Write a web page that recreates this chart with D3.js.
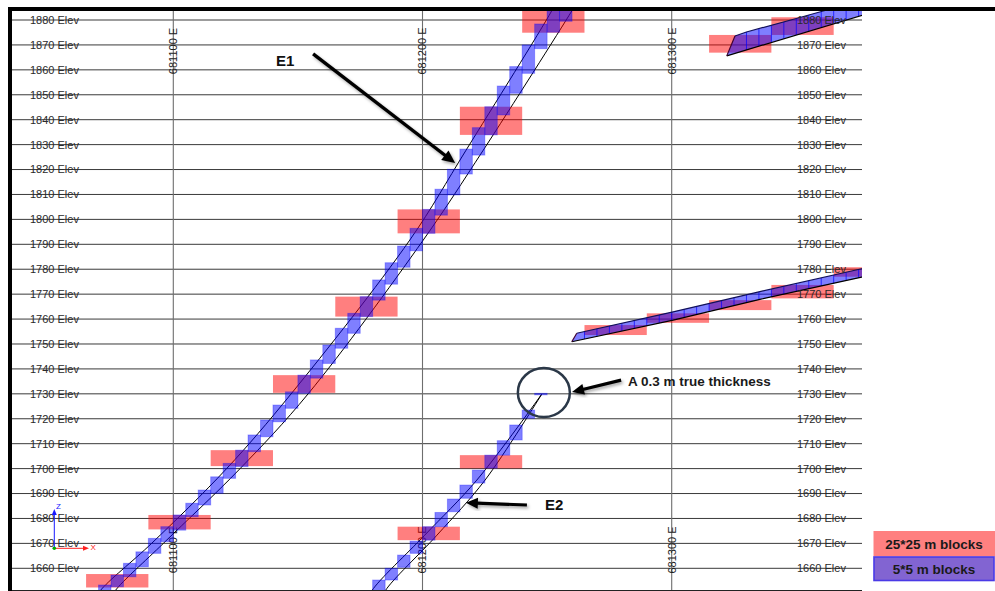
<!DOCTYPE html>
<html><head><meta charset="utf-8">
<script src="https://cdn.jsdelivr.net/npm/d3@7"></script>
<style>html,body{margin:0;padding:0;background:#fff;} svg{display:block;}</style>
</head><body><svg id="chart" width="995" height="591"></svg>
<script>
// ---------- DATA ----------
const eastTicks = [681100, 681200, 681300];
const elevTicks = [1880,1870,1860,1850,1840,1830,1820,1810,1800,1790,1780,1770,1760,1750,1740,1730,1720,1710,1700,1690,1680,1670,1660];

// E1 vein walls [easting, elevation]
const e1Hanging = [[681068.5,1647],[681070.6,1650.9],[681091.3,1670],[681121.4,1700],[681147.2,1729.9],[681194.9,1791.7],[681217.5,1827.8],[681251.8,1883.6],[681254,1888]];
const e1Footwall = [[681074.5,1647],[681076.6,1650.9],[681096.0,1670],[681126.8,1700],[681154.1,1730],[681200.3,1791.7],[681224.4,1827.8],[681259.9,1883.6],[681262.5,1888]];
// E2 vein walls
const e2Hanging = [[681178,1647],[681179.6,1650.9],[681200.9,1673.3],[681221.8,1695.4],[681247.8,1729.8]];
const e2Footwall = [[681183.5,1647],[681185,1650.9],[681205.8,1673.3],[681225.1,1695.4],[681247.8,1729.8]];

// 5*5 m blocks: [west easting, bottom elev, top elev]
const e1Small = [
 [681070,1648,1653.3],[681075,1652.6,1657.3],[681080,1656.6,1662.0],[681085,1660.6,1666.6],
 [681090,1666.0,1672.0],[681095,1670.7,1676.7],[681100,1675.3,1681.4],[681105,1680.7,1686.1],
 [681110,1685.4,1691.4],[681115,1690.1,1696.7],[681120,1696.1,1702.1],[681125,1700.8,1707.4],
 [681130,1706.8,1713.5],[681135,1712.8,1719.5],[681140,1718.8,1725.5],[681145,1724.2,1730.8],
 [681150,1730.2,1737.5],[681155,1736.3,1743.6],[681160,1742.2,1749.6],[681165,1748.3,1756.3],
 [681170,1754.3,1762.3],[681175,1761.0,1769.0],[681180,1767.6,1775.7],[681185,1774.0,1782.6],
 [681190,1780.8,1789.3],[681195,1787.4,1796.4],[681200,1794.4,1804.0],[681205,1801.7,1812.1],
 [681210,1809.8,1820.1],[681215,1818.2,1828.2],[681220,1825.8,1836.8],[681225,1833.9,1845.2],
 [681230,1841.9,1853.5],[681235,1850.6,1861.3],[681240,1858.6,1870.0],[681245,1868.5,1878.4],
 [681250,1875.1,1884.5],[681255,1879.5,1890]];
const e2Small = [
 [681180,1648,1655.3],[681185,1655.3,1660.0],[681190,1660.4,1665.3],[681195,1666.0,1670.9],
 [681200,1671.3,1676.7],[681205,1676.7,1682.4],[681210,1682.7,1687.8],[681215,1688.1,1693.4],
 [681220,1694.2,1699.4],[681225,1700.2,1705.4],[681230,1705.4,1711.2],[681235,1711.5,1717.5],
 [681240,1720.2,1723.5],[681245,1729.6,1730.2]];

// 25*25 m blocks: [west easting, bottom elev, top elev]
const e1Large = [[681065,1652.3,1657.7],[681090,1675.6,1681.4],[681115,1701.0,1707.4],[681140,1730.4,1737.5],
 [681165,1761.0,1769.0],[681190,1794.4,1804.0],[681215,1833.9,1845.2],[681240,1874.9,1887]];
const e2Large = [[681190,1671.3,1676.7],[681215,1700.1,1705.4]];
const midLarge = [[681265,1753.6,1757.6],[681290,1758.5,1762.3],[681315,1763.6,1767.6],[681340,1768.3,1773.7],[681365,1777.0,1780.8]];
const upLarge = [[681315,1866.9,1874.0],[681340,1874.0,1881.1]];

// right-hand veins (outlines) and their 5 m block column divisions
const midTop = [[681261.9,1754.3],[681300.6,1762.9],[681335.4,1771.0],[681376.2,1780.2],[681392,1783.8]];
const midBottom = [[681259.9,1750.9],[681300.6,1759.6],[681335.4,1767.9],[681376.2,1776.8],[681392,1780.4]];
const midColumns = [681265,681270,681275,681280,681285,681290,681295,681300,681305,681310,681315,681320,681325,681330,681335,681340,681345,681350,681355,681360,681365,681370,681375];
const upTop = [[681325.4,1873.6],[681330,1875.2],[681350,1880.6],[681360.8,1883.6],[681392,1892.5]];
const upBottom = [[681322.1,1865.6],[681392,1886.6]];
const upColumns = [681330,681335,681340,681345,681350,681355,681360,681365,681370,681375];

// annotations [easting, elevation]
const labelE1 = [681141.2,1861.5], arrowE1 = [[681156.1,1866.4],[681213.1,1822.6]];
const labelE2 = [681249.2,1683.4], arrowE2 = [[681241.9,1685.4],[681217.4,1686.3]];
const circleCentre = [681248.7,1730.5];
const labelThick = [681282.5,1733.1], arrowThick = [[681279.7,1735.5],[681260.0,1730.7]];

// ---------- SCALES ----------
const svg = d3.select("#chart");
const P = {left:12, right:862, top:10, bottom:590};
const x = d3.scaleLinear().domain([681100,681300]).range([173.3,671.7]);
const y = d3.scaleLinear().domain([1880,1660]).range([20,568.3]);
const FONT = "'Liberation Sans', Arial, Helvetica, sans-serif";

const defs = svg.append("defs");
defs.append("clipPath").attr("id","plotclip").append("rect")
  .attr("x",P.left).attr("y",P.top).attr("width",P.right-P.left).attr("height",P.bottom-P.top);
const f = defs.append("filter").attr("id","shadow").attr("x","-20%").attr("y","-20%").attr("width","140%").attr("height","140%");
f.append("feDropShadow").attr("dx",1.5).attr("dy",2).attr("stdDeviation",1.5).attr("flood-color","#000").attr("flood-opacity",0.35);

svg.append("rect").attr("width",995).attr("height",591).attr("fill","#fff");

// grid
const grid = svg.append("g");
grid.selectAll(".h").data(elevTicks).join("line")
  .attr("x1",P.left).attr("x2",P.right).attr("y1",d=>y(d)).attr("y2",d=>y(d))
  .attr("stroke","#3a3a3a").attr("stroke-width",1);
grid.selectAll(".v").data(eastTicks).join("line")
  .attr("x1",d=>x(d)).attr("x2",d=>x(d)).attr("y1",P.top).attr("y2",P.bottom)
  .attr("stroke","#6e6e6e").attr("stroke-width",1.1);

// easting labels (rotated), top and bottom
[51, 550].forEach(cy=>{
  grid.selectAll(null).data(eastTicks).join("text")
    .attr("transform",d=>`translate(${x(d)},${cy}) rotate(-90)`)
    .attr("text-anchor","middle").attr("dy","0.36em")
    .attr("font-family",FONT).attr("font-size",11).attr("fill","#222")
    .text(d=>d+" E");
});

const g = svg.append("g").attr("clip-path","url(#plotclip)");
const line = d3.line().x(d=>x(d[0])).y(d=>y(d[1])).curve(d3.curveCatmullRom.alpha(0.5));

// vein walls (drawn under the translucent blocks)
[e1Hanging,e1Footwall,e2Hanging,e2Footwall].forEach(p=>{
  g.append("path").attr("d",line(p)).attr("fill","none").attr("stroke","#000").attr("stroke-width",1);
});

function blocks(data, w, fill, stroke){
  g.append("g").selectAll("rect").data(data).join("rect")
    .attr("x",d=>x(d[0])).attr("width",d=>x(d[0]+w)-x(d[0]))
    .attr("y",d=>y(d[2])).attr("height",d=>y(d[1])-y(d[2]))
    .attr("fill",fill).attr("stroke",stroke).attr("stroke-width",stroke==="none"?0:1);
}
const PINK = "rgba(255,0,0,0.5)", BLUE = "rgba(0,0,255,0.5)";
blocks(e1Large,25,PINK,"none");
blocks(e2Large,25,PINK,"none");
blocks(midLarge,25,PINK,"none");
blocks(upLarge,25,PINK,"none");
blocks(e1Small,5,BLUE,"rgba(0,0,255,0.3)");
blocks(e2Small,5,BLUE,"rgba(0,0,255,0.3)");

// right-hand veins: blue block band + column divisions + outline
function band(top,bottom,cols){
  const poly = top.concat(bottom.slice().reverse());
  const lin = d3.line().x(d=>x(d[0])).y(d=>y(d[1]));
  g.append("path").attr("d",lin(poly)+"Z").attr("fill",BLUE).attr("stroke","none");
  const zt = d3.scaleLinear().domain(top.map(d=>d[0])).range(top.map(d=>d[1]));
  const zb = d3.scaleLinear().domain(bottom.map(d=>d[0])).range(bottom.map(d=>d[1]));
  g.append("g").selectAll("line").data(cols).join("line")
    .attr("x1",d=>x(d)).attr("x2",d=>x(d)).attr("y1",d=>y(zt(d))).attr("y2",d=>y(zb(d)))
    .attr("stroke","rgba(0,0,255,0.7)").attr("stroke-width",1);
  g.append("path").attr("d",lin(top)).attr("fill","none").attr("stroke","#10105a").attr("stroke-width",1.2);
  g.append("path").attr("d",lin(bottom)).attr("fill","none").attr("stroke","#000").attr("stroke-width",1.2);
  g.append("path").attr("d",lin([top[0],bottom[0]])).attr("fill","none").attr("stroke","#400030").attr("stroke-width",1.2);
}
band(midTop,midBottom,midColumns);
band(upTop,upBottom,upColumns);

// elevation labels, left and right
[30,797].forEach(lx=>{
  svg.append("g").selectAll("text").data(elevTicks).join("text")
    .attr("x",lx).attr("y",d=>y(d)).attr("dy","0.36em")
    .attr("font-family",FONT).attr("font-size",11).attr("fill","#2a2a2a")
    .text(d=>d+" Elev");
});

// frame
svg.append("rect").attr("x",8).attr("y",7).attr("width",995-8).attr("height",4).attr("fill","#000");
svg.append("rect").attr("x",8).attr("y",7).attr("width",4).attr("height",584).attr("fill","#000");
svg.append("line").attr("x1",P.left).attr("x2",P.right).attr("y1",590.5).attr("y2",590.5).attr("stroke","#222").attr("stroke-width",1);

// arrows
function arrow(p0,p1,w,hl,hw,shadow){
  const x0=x(p0[0]),y0=y(p0[1]),x1=x(p1[0]),y1=y(p1[1]);
  const L=Math.hypot(x1-x0,y1-y0), ux=(x1-x0)/L, uy=(y1-y0)/L, nx=-uy, ny=ux;
  const bx=x1-ux*hl, by=y1-uy*hl;
  const ag=svg.append("g"); if(shadow) ag.attr("filter","url(#shadow)");
  ag.append("line").attr("x1",x0).attr("y1",y0).attr("x2",bx+ux*1).attr("y2",by+uy*1)
    .attr("stroke","#000").attr("stroke-width",w);
  ag.append("path").attr("d",`M${x1},${y1}L${bx+nx*hw},${by+ny*hw}L${bx-nx*hw},${by-ny*hw}Z`).attr("fill","#000");
}
arrow(arrowE1[0],arrowE1[1],3.4,13,6,true);
arrow(arrowE2[0],arrowE2[1],3.2,12,5.5,true);
arrow(arrowThick[0],arrowThick[1],3.2,12,5.5,true);

svg.append("text").attr("x",x(labelE1[0])).attr("y",y(labelE1[1]))
  .attr("font-family",FONT).attr("font-size",15).attr("font-weight","bold").attr("fill","#111").text("E1");
svg.append("text").attr("x",x(labelE2[0])).attr("y",y(labelE2[1]))
  .attr("font-family",FONT).attr("font-size",15).attr("font-weight","bold").attr("fill","#111").text("E2");
svg.append("ellipse").attr("cx",x(circleCentre[0])).attr("cy",y(circleCentre[1])).attr("rx",26).attr("ry",24.5)
  .attr("fill","none").attr("stroke","#2b3848").attr("stroke-width",2.5);
svg.append("text").attr("x",x(labelThick[0])).attr("y",y(labelThick[1]))
  .attr("font-family",FONT).attr("font-size",13.5).attr("font-weight","bold").attr("fill","#1a1a1a")
  .text("A 0.3 m true thickness");

// axis triad
const tri = svg.append("g");
const ox=54.3, oy=548.3;
tri.append("line").attr("x1",ox).attr("y1",oy).attr("x2",ox).attr("y2",512).attr("stroke","#1a1aff").attr("stroke-width",1);
tri.append("path").attr("d",`M${ox},${509}L${ox-2.5},${515}L${ox+2.5},${515}Z`).attr("fill","#1a1aff");
tri.append("line").attr("x1",ox).attr("y1",oy).attr("x2",86).attr("y2",oy).attr("stroke","#ff2020").attr("stroke-width",1);
tri.append("path").attr("d",`M${89},${oy}L${83},${oy-2.5}L${83},${oy+2.5}Z`).attr("fill","#ff2020");
tri.append("circle").attr("cx",ox).attr("cy",oy).attr("r",1.8).attr("fill","#0a0");
tri.append("text").attr("x",56).attr("y",508.5).attr("font-family",FONT).attr("font-size",8).attr("fill","#1a1aff").text("Z");
tri.append("text").attr("x",90.5).attr("y",550).attr("font-family",FONT).attr("font-size",8).attr("fill","#ff2020").text("X");

// legend
const lg = svg.append("g");
lg.append("rect").attr("x",873.5).attr("y",531).attr("width",121.5).attr("height",25.5).attr("fill","#ff8080");
lg.append("rect").attr("x",874).attr("y",557).attr("width",120).attr("height",23.5).attr("fill","#8264d2").attr("stroke","#4a3ae6").attr("stroke-width",1.6);
lg.append("text").attr("x",934).attr("y",548.5).attr("text-anchor","middle").attr("font-family",FONT).attr("font-size",13.5).attr("font-weight","bold").attr("fill","#1a1a1a").text("25*25 m blocks");
lg.append("text").attr("x",934).attr("y",574).attr("text-anchor","middle").attr("font-family",FONT).attr("font-size",13.5).attr("font-weight","bold").attr("fill","#1a1a1a").text("5*5 m blocks");
</script></body></html>
